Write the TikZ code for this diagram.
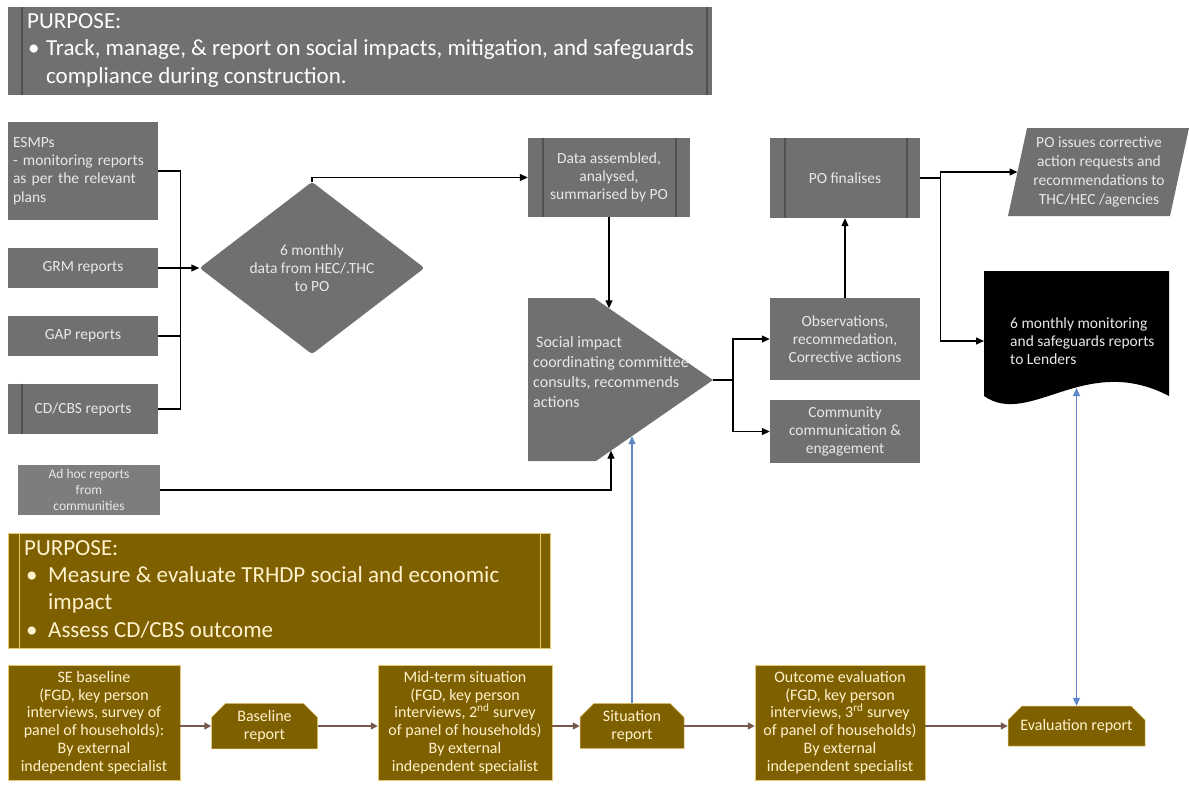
\documentclass[tikz,border=0pt]{standalone}
\usepackage{fontspec}
\setmainfont{Carlito}
\usetikzlibrary{shapes.geometric,shapes.misc,arrows.meta}
\definecolor{gfill}{RGB}{112,112,112}
\definecolor{gfillB}{RGB}{125,125,125}
\definecolor{gline}{RGB}{80,80,80}
\definecolor{gtext}{RGB}{232,232,232}
\definecolor{bfill}{RGB}{127,96,0}
\definecolor{bline}{RGB}{230,200,110}
\definecolor{btext}{RGB}{255,242,204}
\definecolor{barrow}{RGB}{120,88,76}
\definecolor{blu}{RGB}{95,135,200}
\begin{document}
\begin{tikzpicture}[x=1pt,y=-1pt,
  every node/.style={inner sep=0pt},
  gbox/.style={fill=gfill, text=gtext, align=center, font=\fontsize{15.5}{18.3}\selectfont},
  bbox/.style={fill=bfill, draw=bline, line width=0.5pt, text=btext, align=center, font=\fontsize{16}{17.8}\selectfont},
  snipbox/.style={bbox, chamfered rectangle, chamfered rectangle corners={north west,north east}, chamfered rectangle xsep=7pt, chamfered rectangle ysep=7pt},
  arr/.style={draw=black, line width=1.2pt, -{Triangle[length=8pt,width=7pt]}},
  ln/.style={draw=black, line width=1.2pt},
  barr/.style={draw=barrow, line width=1.6pt, -{Triangle[length=7pt,width=7pt]}},
  blarr/.style={draw=blu, line width=1.2pt, -{Triangle[length=8pt,width=7pt]}},
  blarrtwo/.style={draw=blu, line width=1.2pt, {Triangle[length=8pt,width=7pt]}-{Triangle[length=8pt,width=7pt]}},
  pline/.style={draw=gline, line width=1.5pt},
  bpline/.style={draw=bline, line width=1pt},
  purptext/.style={anchor=north west, align=left, font=\fontsize{23}{27.3}\selectfont},
]
\useasboundingbox (0,0) rectangle (1189,787);
\fill[white] (0,0) rectangle (1189,787);

% ---------- top purpose ----------
\node[gbox, minimum width=704pt, minimum height=88pt] (purpA) at (360,51) {};
\draw[pline] ([xshift=14pt]purpA.north west) -- ([xshift=14pt]purpA.south west);
\draw[pline] ([xshift=-5pt]purpA.north east) -- ([xshift=-5pt]purpA.south east);
\node[purptext, text=white] (purpAt) at (27,13.5) {PURPOSE:\\\makebox[19pt][l]{\hspace{1pt}\textbullet}Track, manage, \& report on social impacts, mitigation, and safeguards\\\hspace*{19pt}compliance during construction.};

% ---------- left inputs ----------
\node[gbox, minimum width=150pt, minimum height=98pt, text width=140pt, align=left] (esmp) at (83,171) {ESMPs\\- monitoring reports\\as per the relevant\\plans};
\node[gbox, minimum width=150pt, minimum height=40pt] (grm) at (83,268) {GRM reports};
\node[gbox, minimum width=150pt, minimum height=40pt] (gap) at (83,336) {GAP reports};
\node[gbox, minimum width=150pt, minimum height=50pt] (cdcbs) at (83,409) {CD/CBS reports};
\draw[pline] ([xshift=14pt]cdcbs.north west) -- ([xshift=14pt]cdcbs.south west);

\node[gbox, diamond, minimum width=225pt, minimum height=137pt, rounded corners=3pt] (dia) at (312,268) {6 monthly\\data from HEC/.THC\\to PO};

\draw[ln] (esmp.east) -- ++(22,0) coordinate (busT) |- (cdcbs.east);
\draw[ln] (gap.east) -- (gap.east -| busT);
\draw[arr] (grm.east) -- (dia.west);

% ---------- data assembled ----------
\node[gbox, minimum width=162pt, minimum height=79pt] (data) at (609,177.5) {Data assembled,\\analysed,\\summarised by PO};
\draw[pline] ([xshift=15pt]data.north west) -- ([xshift=15pt]data.south west);
\draw[pline] ([xshift=-14pt]data.north east) -- ([xshift=-14pt]data.south east);
\draw[arr] (dia.north) |- (data.west);

% ---------- social impact committee ----------
\coordinate (siA) at (528,298);
\coordinate (siB) at (594,298);
\coordinate (siTip) at (713,380);
\coordinate (siC) at (596,461);
\coordinate (siD) at (528,461);
\fill[gfill] (siA) -- (siB) -- (siTip) -- (siC) -- (siD) -- cycle;
\node[anchor=west, text=gtext, align=left, font=\fontsize{16}{19.7}\selectfont] (si) at (533,372) {\hspace*{3pt}Social impact\\coordinating committee\\consults, recommends\\actions};
\coordinate (siN) at (609,308.3);
\coordinate (siS) at (611,450.6);
\coordinate (siBl) at (632,436.2);
\draw[arr] (data.south) -- (siN);

% ---------- right column ----------
\node[gbox, minimum width=150pt, minimum height=80pt] (po) at (845,178) {PO finalises};
\draw[pline] ([xshift=15pt]po.north west) -- ([xshift=15pt]po.south west);
\draw[pline] ([xshift=-13pt]po.north east) -- ([xshift=-13pt]po.south east);
\node[gbox, minimum width=150pt, minimum height=82pt] (obs) at (845,339) {Observations,\\recommedation,\\Corrective actions};
\node[gbox, minimum width=150pt, minimum height=63pt] (comm) at (845,431.5) {Community\\communication \&\\engagement};

\draw[ln] (siTip) -- ++(20,0) coordinate (sibus);
\draw[arr] (sibus) |- (obs.west);
\draw[arr] (sibus) |- (comm.west);
\draw[arr] (obs.north) -- (po.south);

% parallelogram
\fill[gfill] (1027,128) -- (1189,128) -- (1170,216) -- (1008,216) -- cycle;
\node[text=gtext, align=center, font=\fontsize{15.5}{19.2}\selectfont] (para) at (1099,172) {PO issues corrective\\action requests and\\recommendations to\\THC/HEC /agencies};
\coordinate (paraW) at (1017.5,172);

% document
\fill[black] (984,271) -- (1169,271) -- (1169,396) .. controls (1085,352) and (1030,428) .. (984,396) -- cycle;
\node[anchor=west, text=gtext, align=left, font=\fontsize{15.5}{18.3}\selectfont] (doc) at (1010,341) {6 monthly monitoring\\and safeguards reports\\to Lenders};
\coordinate (docW) at (984,341);
\coordinate (docB) at (1076.5,388);

\draw[ln] (po.east) -- ++(20,0) coordinate (pobus);
\draw[arr] (pobus) |- (paraW);
\draw[arr] (pobus) |- (docW);

% ---------- ad hoc ----------
\node[gbox, fill=gfillB, minimum width=142pt, minimum height=50pt, font=\fontsize{13.5}{16}\selectfont] (adhoc) at (89,490) {Ad hoc reports\\from\\communities};
\draw[arr] (adhoc.east) -| (siS);

% ---------- lower purpose ----------
\node[bbox, minimum width=542pt, minimum height=115pt] (purpB) at (279,590.5) {};
\draw[bpline] ([xshift=12pt]purpB.north west) -- ([xshift=12pt]purpB.south west);
\draw[bpline] ([xshift=-10pt]purpB.north east) -- ([xshift=-10pt]purpB.south east);
\node[purptext, text=btext] (purpBt) at (24,540) {PURPOSE:\\\makebox[24pt][l]{\hspace{2pt}\textbullet}Measure \& evaluate TRHDP social and economic\\\hspace*{24pt}impact\\\makebox[24pt][l]{\hspace{2pt}\textbullet}Assess CD/CBS outcome};

% ---------- bottom row ----------
\node[bbox, minimum width=172pt, minimum height=115pt] (se) at (94,722.5) {SE baseline\\(FGD, key person\\interviews, survey of\\panel of households):\\By external\\independent specialist};
\node[snipbox, minimum width=106pt, minimum height=40pt] (blr) at (264.5,726) {Baseline\\report};
\node[bbox, minimum width=174pt, minimum height=115pt] (mid) at (465,722.5) {Mid-term situation\\(FGD, key person\\interviews, 2\textsuperscript{nd} survey\\of panel of households)\\By external\\independent specialist};
\node[snipbox, minimum width=104pt, minimum height=40pt] (sit) at (632,726) {Situation\\report};
\node[bbox, minimum width=170pt, minimum height=115pt] (out) at (840,722.5) {Outcome evaluation\\(FGD, key person\\interviews, 3\textsuperscript{rd} survey\\of panel of households)\\By external\\independent specialist};
\node[snipbox, minimum width=137pt, minimum height=40pt] (evr) at (1076.5,726) {Evaluation report};

\draw[barr] (se.east |- blr.west) -- (blr.west);
\draw[barr] (blr.east) -- (blr.east -| mid.west);
\draw[barr] (mid.east |- sit.west) -- (sit.west);
\draw[barr] (sit.east) -- (sit.east -| out.west);
\draw[barr] (out.east |- evr.west) -- (evr.west);

% blue connectors
\draw[blarr] (sit.north) -- (siBl);
\draw[blarrtwo] (docB) -- (evr.north);
\end{tikzpicture}
\end{document}
